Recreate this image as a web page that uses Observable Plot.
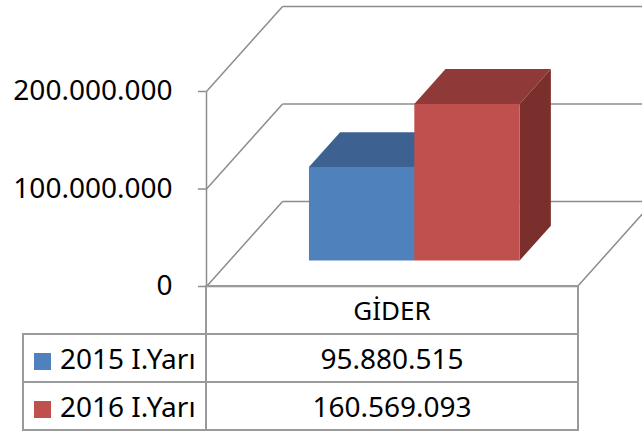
<!DOCTYPE html>
<html><head><meta charset="utf-8">
<script src="https://cdn.jsdelivr.net/npm/d3@7"></script>
<script src="https://cdn.jsdelivr.net/npm/@observablehq/plot@0.6"></script>
<style>
html,body{margin:0;padding:0;background:#fff;overflow:hidden;}
#wrap{width:642px;height:436px;position:relative;overflow:hidden;font-family:"Noto Sans",sans-serif;color:#000;}
#chart{position:absolute;left:0;top:0;}
table{border-collapse:collapse;position:absolute;left:22px;top:285px;width:555px;font-size:28px;table-layout:fixed;}
td{padding:0;text-align:center;vertical-align:middle;white-space:nowrap;}
td.lab{text-align:left;padding-left:10px;}
.b{border:2px solid #9a9a9a;}
.sw{display:inline-block;width:17px;height:17px;margin-right:9px;vertical-align:-1px;}
</style></head>
<body><div id="wrap"><div id="chart"></div><table id="tbl"></table></div>
<script>
const categories = ["GİDER"];
const series = ["2015 I.Yarı", "2016 I.Yarı"];
const values = [95880515, 160569093];
const yTicks = [0, 100000000, 200000000];
const frontColors = ["#4f81bd", "#c0504d"];
const topColors = ["#3d6291", "#8f3a38"];
const sideColors = ["#2f4e75", "#7b2f2d"];

// pseudo-3D geometry, in scale units
const DX = 0.205, DY = 87.2e6;      // wall depth
const barW = 0.284, f0 = 0.3, f1 = 0.71;  // bar width and depth range
const grid = "#8c8c8c";

const fmt = d3.formatLocale({decimal: ",", thousands: ".", grouping: [3], currency: ["", ""]}).format(",d");

const lines = [];
yTicks.forEach(v => {
  lines.push({x1: 0, y1: v, x2: DX, y2: v + DY});
  lines.push({x1: DX, y1: v + DY, x2: 1 + DX + 0.2, y2: v + DY});
});
lines.push({x1: 0, y1: 0, x2: 1, y2: 0});
lines.push({x1: 1, y1: 0, x2: 1 + DX, y2: DY});
lines.push({x1: 0, y1: 0, x2: 0, y2: yTicks[yTicks.length - 1]});

const barMarks = [];
series.forEach((s, i) => {
  const v = values[i];
  const x0 = 0.5 - barW + i * barW, x1 = x0 + barW;
  const sx0 = f0 * DX, sy0 = f0 * DY, sx1 = f1 * DX, sy1 = f1 * DY;
  barMarks.push(Plot.areaY([{x: x1 + sx0, a: sy0, b: v + sy0}, {x: x1 + sx1, a: sy1, b: v + sy1}],
    {x: "x", y1: "a", y2: "b", fill: sideColors[i]}));
  barMarks.push(Plot.areaX([{y: v + sy0, a: x0 + sx0, b: x1 + sx0}, {y: v + sy1, a: x0 + sx1, b: x1 + sx1}],
    {y: "y", x1: "a", x2: "b", fill: topColors[i]}));
  barMarks.push(Plot.rect([{s, v}], {x1: () => x0 + sx0, x2: () => x1 + sx0, y1: () => sy0, y2: d => d.v + sy0, fill: frontColors[i]}));
});

const chart = Plot.plot({
  width: 642, height: 287,
  marginLeft: 206, marginRight: 65, marginTop: 91, marginBottom: 1,
  x: {domain: [0, 1], axis: null},
  y: {domain: [0, 200000000], axis: null},
  style: {fontFamily: "Noto Sans", background: "transparent", overflow: "visible"},
  marks: [
    Plot.link(lines, {x1: "x1", y1: "y1", x2: "x2", y2: "y2", stroke: grid, strokeWidth: 1.5}),
    ...barMarks,
    Plot.axisY({ticks: yTicks, tickFormat: fmt, tickSize: 8, tickPadding: 26, stroke: grid, strokeWidth: 1.5, fill: "#000", fontSize: 28, label: null})
  ]
});
document.getElementById("chart").appendChild(chart);

const tbl = document.getElementById("tbl");
let html = '<colgroup><col style="width:183px"><col style="width:372px"></colgroup>';
html += '<tr style="height:48px"><td></td>' + categories.map(c => `<td class="b" style="font-size:26px">${c}</td>`).join("") + '</tr>';
series.forEach((s, i) => {
  html += `<tr style="height:48px"><td class="b lab"><span class="sw" style="background:${frontColors[i]}"></span>${s}</td><td class="b">${fmt(values[i])}</td></tr>`;
});
tbl.innerHTML = html;
</script></body></html>
